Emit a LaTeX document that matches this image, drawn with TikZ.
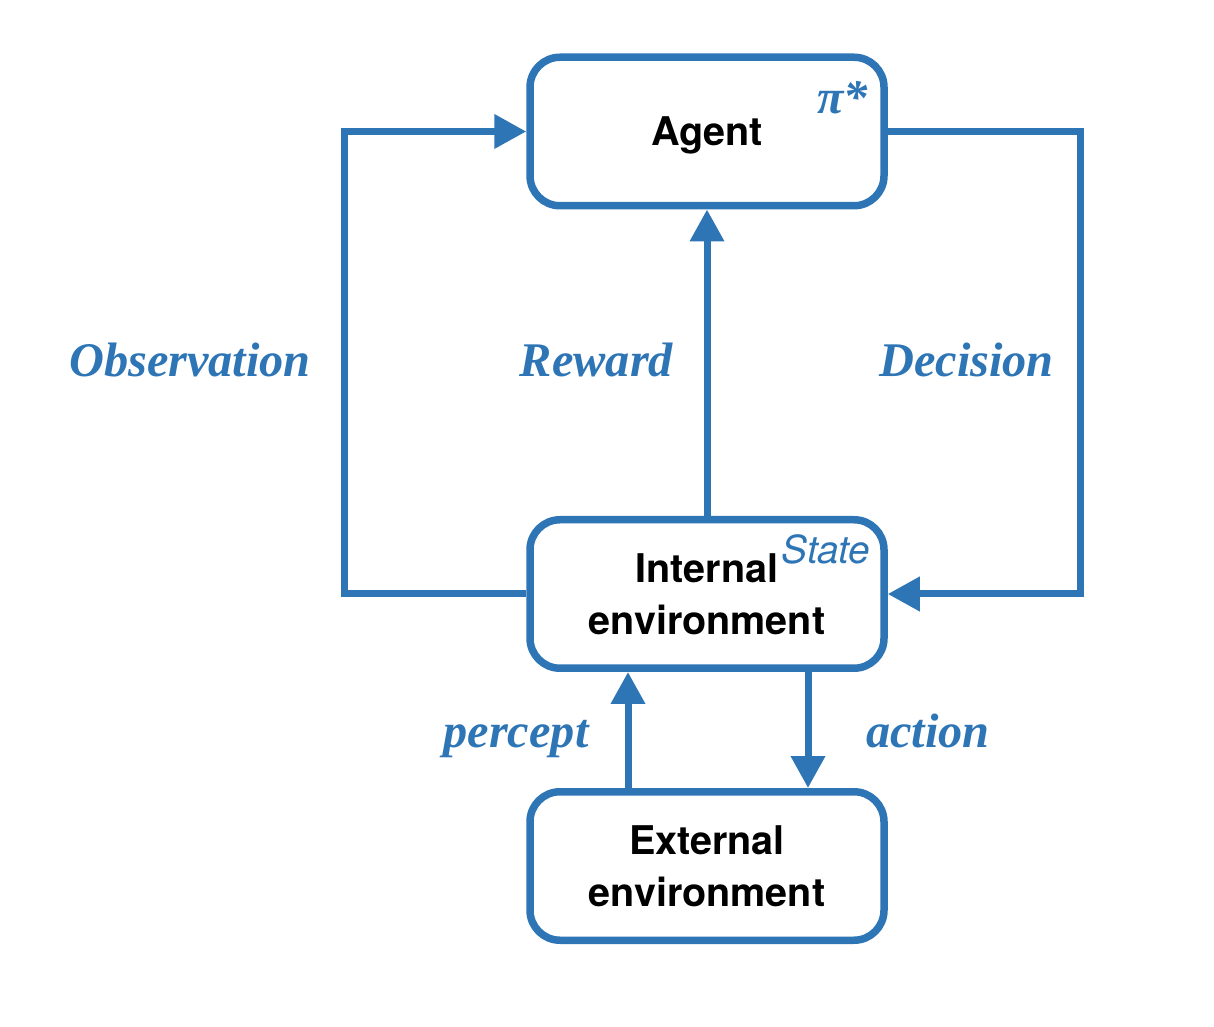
\documentclass[tikz,border=0pt]{standalone}
\usepackage{fontspec}
\setmainfont{Liberation Serif}
\setsansfont{TeX Gyre Heros}
\usetikzlibrary{arrows.meta}
\definecolor{flowblue}{HTML}{2E75B6}
\tikzset{
    envbox/.style={rectangle, rounded corners=0.6cm, draw=flowblue, line width=0.15cm,
        minimum width=7.08cm, minimum height=2.97cm, inner sep=0pt, align=center,
        font=\sffamily\bfseries\fontsize{22.5}{29.5}\selectfont},
    flow/.style={draw=flowblue, line width=0.14cm, -{Triangle[length=0.64cm,width=0.66cm]}},
    lbl/.style={text=flowblue, anchor=base, font=\bfseries\itshape\fontsize{27.5}{33}\selectfont},
}

\begin{document}
\begin{tikzpicture}
    \useasboundingbox (0,0) rectangle (24.28,20.52);
    \draw (14.14,17.89) node[envbox, text depth=0pt] (agent) {Agent};
    \draw (14.14,8.64) node[envbox] (internal) {Internal\\environment};
    \draw (14.14,3.2) node[envbox] (external) {External\\environment};

    \draw[flow] (internal.north) -- (agent.south);
    \draw[flow] (internal.west) -- ++(-3.63,0) |- (agent.west);
    \draw[flow] (agent.east) -- ++(3.85,0) |- (internal.east);
    \draw[flow] ([xshift=-1.58cm]external.north) -- ([xshift=-1.58cm]internal.south);
    \draw[flow] ([xshift=2.02cm]internal.south) -- ([xshift=2.02cm]external.north);

    \draw (3.8,12.98) node[lbl] (obs) {Observation};
    \draw (11.93,12.98) node[lbl] (rew) {Reward};
    \draw (19.33,12.98) node[lbl] (dec) {Decision};
    \draw (10.32,5.58) node[lbl] (per) {percept};
    \draw (18.56,5.58) node[lbl] (act) {action};
    \draw (16.85,18.24) node[lbl] (policy) {π*};
    \draw (16.52,9.24) node[lbl, font=\sffamily\itshape\fontsize{22}{26}\selectfont] (state) {State};
\end{tikzpicture}
\end{document}
